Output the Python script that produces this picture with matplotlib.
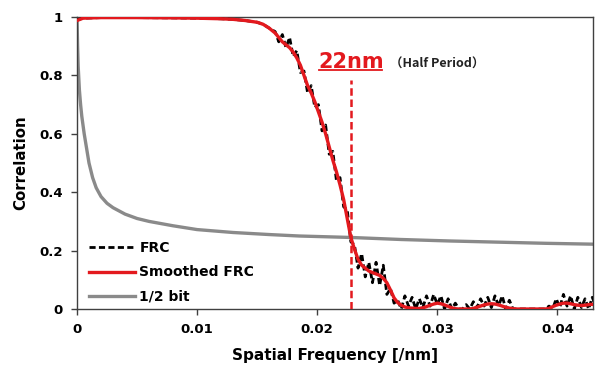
#!/usr/bin/env python3

import numpy as np
from matplotlib import pyplot as plt
from matplotlib.lines import Line2D


# early part, FRC and smoothed FRC nearly the same
freq_early = [0, 0.0005, 0.002, 0.005, 0.008, 0.01, 0.012, 0.013, 0.014,
              0.015, 0.0155, 0.016]
frc_early = [0.99, 0.996, 0.998, 0.998, 0.997, 0.996, 0.994, 0.992, 0.988,
             0.982, 0.975, 0.962]
smooth_early = [0.988, 0.996, 0.998, 0.998, 0.997, 0.996, 0.994, 0.992,
                0.988, 0.982, 0.975, 0.962]

# fine sampled part from 0.0165 in steps of 0.0003
frc_fine = [
    0.95, 0.915, 0.94, 0.895, 0.93, 0.865, 0.885, 0.81, 0.815, 0.74,
    0.765, 0.69, 0.70, 0.61, 0.63, 0.53, 0.54, 0.44, 0.45, 0.35,
    0.34, 0.23, 0.22, 0.14, 0.19, 0.11, 0.16, 0.09, 0.16, 0.08,
    0.15, 0.05, 0.07, 0.02, 0.03, 0.0, 0.045, 0.01, 0.04, 0.0,
    0.035, 0.005, 0.045, 0.01, 0.05, 0.015, 0.045, 0.0, 0.035, 0.0,
    0.02, 0.0, 0.0, 0.015, 0.0, 0.025, 0.005, 0.035, 0.01, 0.04,
    0.005, 0.045, 0.01, 0.045, 0.0, 0.03, 0.0, 0.0, 0.0, 0.0,
    0.0, 0.0, 0.0, 0.0, 0.0, 0.0, 0.01, 0.0, 0.035, 0.005,
    0.05, 0.01, 0.045, 0.0, 0.04, 0.005, 0.035, 0.0, 0.04, 0.01,
]
smooth_fine = [
    0.945, 0.93, 0.915, 0.905, 0.895, 0.88, 0.86, 0.835, 0.80, 0.765,
    0.74, 0.71, 0.675, 0.64, 0.60, 0.555, 0.51, 0.47, 0.425, 0.375,
    0.31, 0.245, 0.205, 0.17, 0.15, 0.14, 0.13, 0.125, 0.12, 0.115,
    0.105, 0.09, 0.065, 0.038, 0.022, 0.013, 0.007, 0.004, 0.003, 0.002,
    0.002, 0.004, 0.008, 0.013, 0.017, 0.02, 0.018, 0.014, 0.009, 0.004,
    0.001, 0.0, 0.0, 0.0, 0.0, 0.002, 0.006, 0.01, 0.014, 0.017,
    0.018, 0.017, 0.014, 0.01, 0.006, 0.003, 0.001, 0.0, 0.0, 0.0,
    0.0, 0.0, 0.0, 0.0, 0.0, 0.0, 0.002, 0.008, 0.013, 0.017,
    0.02, 0.02, 0.018, 0.015, 0.013, 0.012, 0.013, 0.015, 0.016, 0.015,
]

half_bit_freq = [0, 0.00005, 0.0001, 0.0002, 0.0003, 0.0004, 0.0006, 0.0008,
                 0.001, 0.0013, 0.0016, 0.002, 0.0025, 0.003, 0.004, 0.005,
                 0.006, 0.008, 0.01, 0.013, 0.016, 0.0185, 0.0228, 0.027,
                 0.031, 0.035, 0.039, 0.043]
half_bit = [1.0, 0.9, 0.83, 0.75, 0.7, 0.66, 0.6, 0.55, 0.5, 0.45, 0.415,
            0.385, 0.362, 0.347, 0.325, 0.31, 0.3, 0.285, 0.272, 0.262,
            0.255, 0.25, 0.245, 0.238, 0.233, 0.229, 0.225, 0.222]

resolution_freq = 0.0228
resolution_label = '22nm'

x_ticks = [0, 0.01, 0.02, 0.03, 0.04]
x_tick_labels = ['0', '0.01', '0.02', '0.03', '0.04']
y_ticks = [0, 0.2, 0.4, 0.6, 0.8, 1]
y_tick_labels = ['0', '0.2', '0.4', '0.6', '0.8', '1']

red = '#e3191e'
gray = '#8a8a8a'

if __name__ == '__main__':
    plt.rcParams['font.family'] = ['DejaVu Sans', 'Noto Sans CJK JP']
    plt.rcParams['font.weight'] = 'bold'

    freq_fine = 0.0165 + 0.0003 * np.arange(len(frc_fine))
    freq = np.concatenate([freq_early, freq_fine])
    frc = np.concatenate([frc_early, frc_fine])
    smooth = np.concatenate([smooth_early, smooth_fine])

    fig = plt.figure(figsize=(5.95, 3.74), dpi=100)
    ax = fig.add_axes([0.1294, 0.1738, 0.868, 0.7807])

    ax.plot(freq, frc, color='black', lw=2, ls=(0, (2.2, 1.2)), label='FRC',
            zorder=3)
    ax.plot(freq, smooth, color=red, lw=2.4, label='Smoothed FRC', zorder=4)
    ax.plot(half_bit_freq, half_bit, color=gray, lw=2.4, label='1/2 bit',
            zorder=2)

    ax.plot([resolution_freq, resolution_freq], [0, 0.785], color=red,
            lw=1.8, ls=(0, (3, 1.5)), zorder=5)
    t = ax.text(resolution_freq, 0.812, resolution_label, color=red,
                fontsize=15, fontweight='bold', ha='center', va='bottom',
                zorder=6)
    ax.text(0.0261, 0.815, '（Half Period）', color='#222222', fontsize=9,
            fontweight='bold', ha='left', va='bottom', zorder=6,
            family=['Noto Sans CJK JP', 'DejaVu Sans'])

    ax.set_xlim(0, 0.043)
    ax.set_ylim(0, 1)
    ax.set_xticks(x_ticks)
    ax.set_xticklabels(x_tick_labels)
    ax.set_yticks(y_ticks)
    ax.set_yticklabels(y_tick_labels)
    ax.tick_params(labelsize=9.5, length=4, width=1, color='#404040',
                   pad=6)
    for s in ax.spines.values():
        s.set_color('#404040')
        s.set_linewidth(1)

    ax.set_xlabel('Spatial Frequency [/nm]', fontsize=11, fontweight='bold',
                  labelpad=9)
    ax.set_ylabel('Correlation', fontsize=10.8, fontweight='bold',
                  labelpad=8)

    ax.legend(loc='lower left', frameon=False, fontsize=10,
              handlelength=3.3, handletextpad=0.3, labelspacing=0.75,
              bbox_to_anchor=(0.0, -0.025))

    # underline for the resolution label
    fig.canvas.draw()
    bb = t.get_window_extent().transformed(fig.transFigure.inverted())
    fig.add_artist(Line2D([bb.x0 + 0.002, bb.x1 - 0.002],
                          [bb.y0 + 0.004, bb.y0 + 0.004],
                          color=red, lw=1.3, transform=fig.transFigure))

    fig.savefig('out.png', dpi=100)
